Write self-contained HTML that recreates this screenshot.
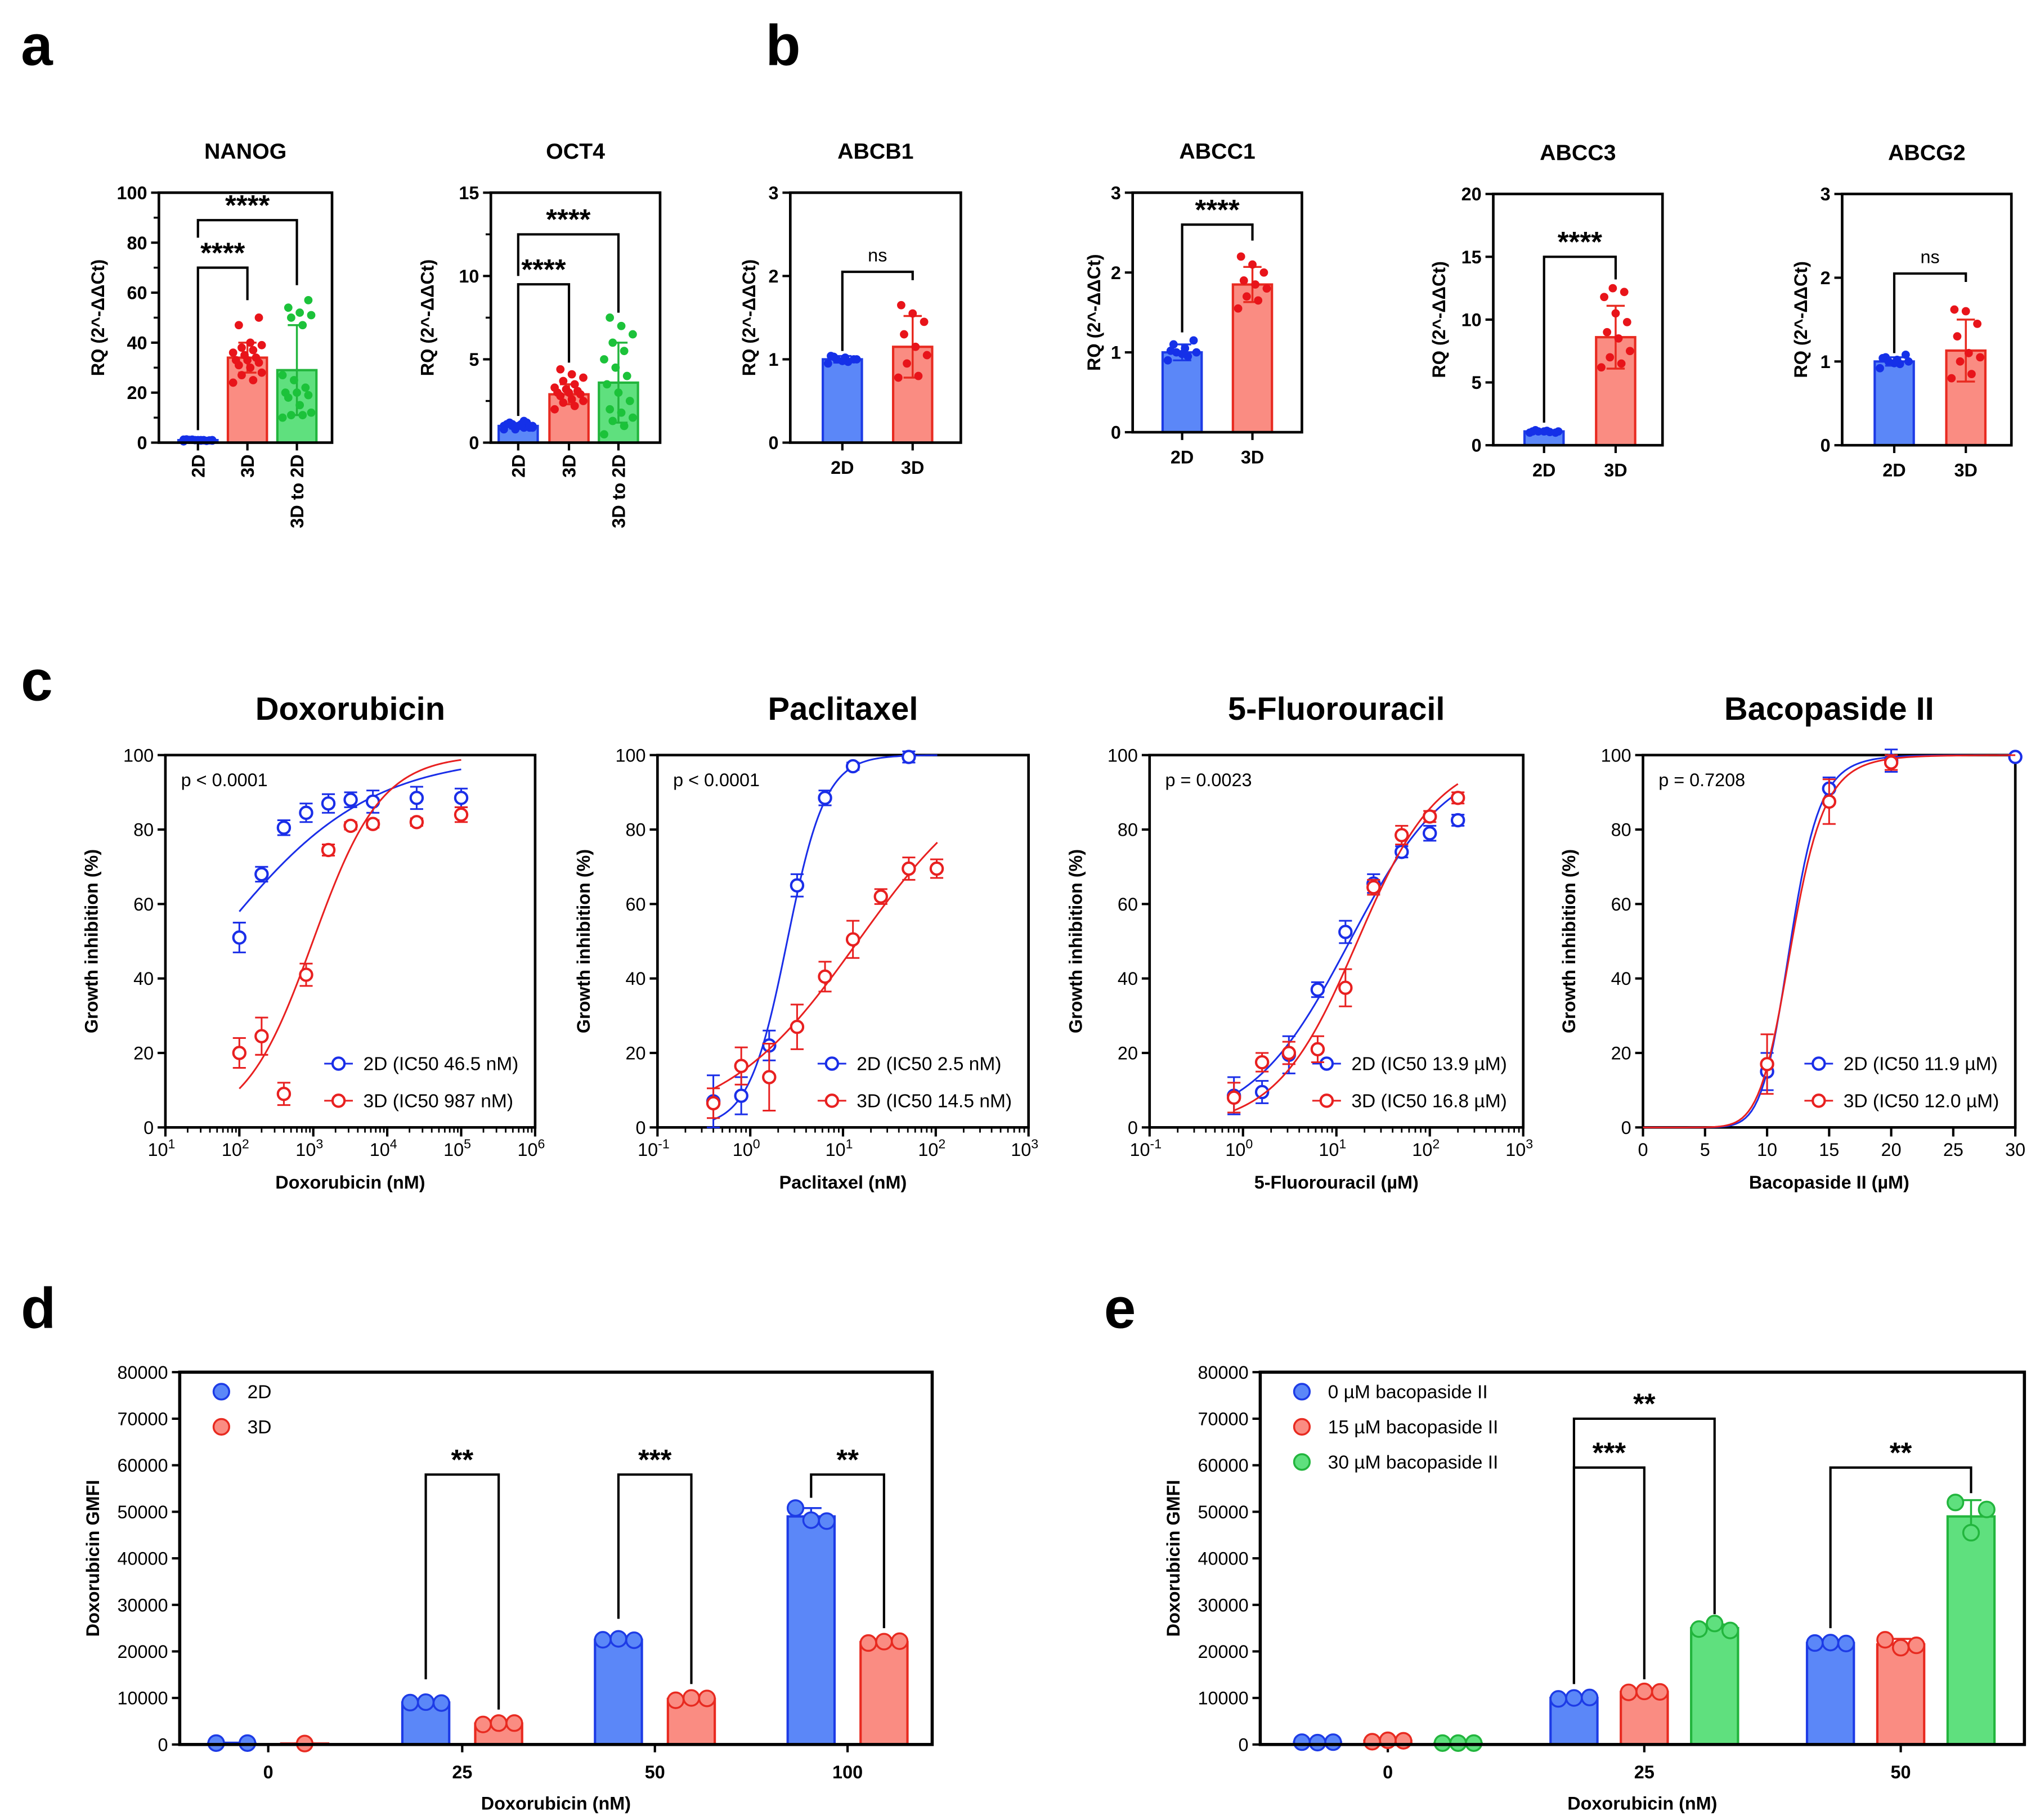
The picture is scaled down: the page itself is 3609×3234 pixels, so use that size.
<!DOCTYPE html>
<html><head><meta charset="utf-8">
<style>
html,body{margin:0;padding:0;background:#fff;}
svg{display:block;font-family:"Liberation Sans",Arial,sans-serif;}
</style></head>
<body>
<svg id="fig" xmlns="http://www.w3.org/2000/svg" width="3609" height="3234" viewBox="0 0 1560 1398"></svg>
<script>
// ---------- DATA ----------
const nanogCats=['2D','3D','3D to 2D'];
const nanogMeans=[1,34,29];
const nanogSD=[0.4,6,18];
const nanogPts=[[0.5,1,1.2,0.8,1,1.1,0.9,1,1.3,0.7,1,1.2,0.9,1.1,1,0.8],[24,25,27,28,30,31,32,33,33,34,35,36,37,38,39,40,47,50],[10,11,11,12,15,18,19,20,20,22,25,27,47,50,51,52,54,57]];
const oct4Cats=['2D','3D','3D to 2D'];
const oct4Means=[1,2.9,3.6];
const oct4SD=[0.15,0.6,2.4];
const oct4Pts=[[0.8,0.9,1,1,1.1,1.2,0.9,1,1.1,1.2,0.8,1,1.3,1.1,0.9,1],[2,2.2,2.4,2.5,2.6,2.8,2.9,3,3,3.1,3.2,3.3,3.5,3.7,3.9,4.1,4.4],[0.5,1,1.3,1.5,1.8,2,2.5,3,3.5,4,4.5,5,5.5,6,6.5,7,7.5]];
const abcb1Means=[1.0,1.15];
const abcb1SD=[0.04,0.37];
const abcb1Pts=[[0.95,0.97,1,1,1.02,1.03,1,0.98,1.04],[0.78,0.8,0.95,1.05,1.15,1.3,1.45,1.55,1.65]];
const abcc1Means=[1.0,1.85];
const abcc1SD=[0.1,0.22];
const abcc1Pts=[[0.9,0.95,1,1,1.05,1.1,1.15,0.98,1.02],[1.55,1.65,1.7,1.8,1.85,1.9,2.0,2.1,2.2]];
const abcc3Means=[1.1,8.6];
const abcc3SD=[0.1,2.5];
const abcc3Pts=[[1,1.05,1.1,1.1,1.15,1.2,1.0,1.1,1.1],[6.2,6.5,7,7.5,8.5,9,9.8,10.5,11.8,12.2,12.5]];
const abcg2Means=[1.0,1.13];
const abcg2SD=[0.05,0.37];
const abcg2Pts=[[0.92,0.97,1,1,1.02,1.05,1.08,0.98,1.04],[0.8,0.85,1.0,1.05,1.1,1.3,1.45,1.6,1.62]];

const doxoX=[100,200,400,800,1600,3200,6400,25000,100000];
const doxo2D=[51,68,80.5,84.5,87,88,87.5,88.5,88.5];
const doxo2DSD=[4,2,2,2.5,2.5,2,3,3,2.5];
const doxo3D=[20,24.5,9,41,74.5,81,81.5,82,84];
const doxo3DSD=[4,5,3,3,1.5,1,1,1,2];
const pacliX=[0.4,0.8,1.6,3.2,6.4,12.8,25.6,51.2,102.4];
const pacli2D=[7,8.5,22,65,88.5,97,null,99.5,null];
const pacli2DSD=[7,5,4,3,2,1,0,1.5,0];
const pacli3D=[6.5,16.5,13.5,27,40.5,50.5,62,69.5,69.5];
const pacli3DSD=[4,5,9,6,4,5,2,3,2.5];
const fuX=[0.8,1.6,3.1,6.3,12.5,25,50,100,200];
const fu2D=[8.5,9.5,19.5,37,52.5,65.5,74,79,82.5];
const fu2DSD=[5,3,5,2,3,2.5,1.5,2,1.5];
const fu3D=[8,17.5,20,21,37.5,64.5,78.5,83.5,88.5];
const fu3DSD=[4,2.5,3,3.5,5,2,2.5,1.5,1.5];
const bacoX=[10,15,20,30];
const baco2D=[15,91,98.5,99.5];
const baco2DSD=[5,3,3,0.5];
const baco3D=[17,87.5,98,null];
const baco3DSD=[8,6,2,0];
const fitIC50=[[46.5,987],[2.5,14.5],[13.9,16.8],[11.9,12.0]];
const fitHill=[[0.42,0.94],[2.1,0.6],[0.82,1.0],[10,9]];
const pLabels=['p < 0.0001','p < 0.0001','p = 0.0023','p = 0.7208'];

const dGroups=['0','25','50','100'];
const d2D=[300,9000,22500,49000];
const d2DSD=[100,300,300,1800];
const d2DPts=[[300,300],[9000,9100,8900],[22500,22700,22400],[50800,48200,48000]];
const d3D=[200,4500,9800,22000];
const d3DSD=[50,300,500,500];
const d3DPts=[[200],[4300,4600,4600],[9500,10000,9900],[21800,22100,22200]];
const eGroups=['0','25','50'];
const eBlue=[500,10000,21800];
const eBlueSD=[100,300,300];
const eBluePts=[[500,400,500],[9800,10000,10100],[21800,21900,21700]];
const eRed=[800,11300,21500];
const eRedSD=[200,300,1200];
const eRedPts=[[600,900,800],[11200,11400,11300],[22500,20800,21300]];
const eGreen=[300,25000,49000];
const eGreenSD=[100,800,3500];
const eGreenPts=[[300,300,300],[24800,26000,24500],[52000,45500,50500]];

// ---------- DRAW ----------
const NS='http://www.w3.org/2000/svg';
const svg=document.getElementById('fig');
function el(tag,attrs,parent,text){const e=document.createElementNS(NS,tag);for(const k in attrs)e.setAttribute(k,attrs[k]);if(text!=null)e.textContent=text;(parent||svg).appendChild(e);return e;}
const COL={blue:{fill:'#5b87f8',stroke:'#1d3be6',dot:'#1530e8'},red:{fill:'#fa8c82',stroke:'#e82a20',dot:'#e8141a'},green:{fill:'#5fe07e',stroke:'#22b53d',dot:'#1cc23a'}};
const cols3=['blue','red','green'];

function letter(t,x,y){const e=el('text',{x:x,y:y,'font-size':44,'font-weight':'bold'},svg,t);

}
letter('a',16,50);letter('b',588,50);letter('c',16,538);letter('d',16,1020);letter('e',848,1020);

function bracket(g,x1,x2,yTop,yl,yr,label,fs){
  const p=el('path',{d:`M${x1},${yl}V${yTop}H${x2}V${yr}`,fill:'none',stroke:'#000','stroke-width':1.8},g);
  
  
  const t=el('text',{x:(x1+x2)/2,y:yTop-(label==='ns'?8:4),'text-anchor':'middle','font-size':label==='ns'?14:fs,'font-weight':label==='ns'?'normal':'bold'},g,label);
  
  
}

function barPanel(p){
  const g=el('g',{});
  
  
  const y=v=>p.B-(v/p.ymax)*(p.B-p.T);
  const t=el('text',{x:(p.L+p.R)/2,y:p.T-26,'text-anchor':'middle','font-size':17,'font-weight':'bold'},g,p.title);
  
  
  p.ticks.forEach(v=>{el('line',{x1:p.L-6,x2:p.L,y1:y(v),y2:y(v),stroke:'#000','stroke-width':1.8},g);
    const tl=el('text',{x:p.L-9,y:y(v)+5,'text-anchor':'end','font-size':14,'font-weight':'bold'},g,String(v));
    
    });
  (p.minor||[]).forEach(v=>el('line',{x1:p.L-4,x2:p.L,y1:y(v),y2:y(v),stroke:'#000','stroke-width':1.5},g));
  p.means.forEach((m,i)=>{
    const c=COL[cols3[i]];const x=p.xs[i];
    const r=el('rect',{x:x-15,y:y(m),width:30,height:p.B-y(m),fill:c.fill,stroke:c.stroke,'stroke-width':1.8},g);
    
    
    const e=el('path',{d:`M${x},${y(m-p.sd[i])}V${y(m+p.sd[i])}M${x-7},${y(m+p.sd[i])}h14M${x-7},${y(m-p.sd[i])}h14`,stroke:c.stroke,'stroke-width':1.5,fill:'none'},g);
    
    
    p.pts[i].forEach((v,j)=>{const dx=((j*7)%11-5)*2.2;
      const d=el('circle',{cx:x+dx,cy:y(v),r:3.2,fill:c.dot},g);
      
      });
    el('line',{x1:x,x2:x,y1:p.B,y2:p.B+6,stroke:'#000','stroke-width':1.8},g);
    let xl;
    if(p.rot){xl=el('text',{x:0,y:0,transform:`translate(${x+5},${p.B+9}) rotate(-90)`,'text-anchor':'end','font-size':14,'font-weight':'bold'},g,p.cats[i]);}
    else{xl=el('text',{x:x,y:p.B+24,'text-anchor':'middle','font-size':14,'font-weight':'bold'},g,p.cats[i]);}
    
    
  });
  const fr=el('rect',{x:p.L,y:p.T,width:p.R-p.L,height:p.B-p.T,fill:'none',stroke:'#000','stroke-width':2},g);
  
  
  const yl=el('text',{x:0,y:0,transform:`translate(${p.yl},${(p.T+p.B)/2}) rotate(-90)`,'text-anchor':'middle','font-size':14,'font-weight':'bold'},g,'RQ (2^-ΔΔCt)');
  
  
  p.br.forEach(b=>bracket(g,p.xs[b[0]],p.xs[b[1]],y(b[2]),y(b[3]),y(b[4]),b[5],22));
}
barPanel({name:'nanog',title:'NANOG',L:122,R:255,T:148,B:340,ymax:100,ticks:[0,20,40,60,80,100],minor:[10,30,50,70,90],cats:nanogCats,means:nanogMeans,sd:nanogSD,pts:nanogPts,xs:[152,190,228],rot:true,yl:80,
  br:[[0,1,70,5,57,'****'],[0,2,89,82,63,'****']]});
barPanel({name:'oct4',title:'OCT4',L:377,R:507,T:148,B:340,ymax:15,ticks:[0,5,10,15],minor:[2.5,7.5,12.5],cats:oct4Cats,means:oct4Means,sd:oct4SD,pts:oct4Pts,xs:[398,437,475],rot:true,yl:333,
  br:[[0,1,9.5,1.6,4.8,'****'],[0,2,12.5,10,7.8,'****']]});
barPanel({name:'abcb1',title:'ABCB1',L:607,R:738,T:148,B:340,ymax:3,ticks:[0,1,2,3],cats:['2D','3D'],means:abcb1Means,sd:abcb1SD,pts:abcb1Pts,xs:[647,701],rot:false,yl:580,
  br:[[0,1,2.05,1.1,1.95,'ns']]});
barPanel({name:'abcc1',title:'ABCC1',L:870,R:1000,T:148,B:332,ymax:3,ticks:[0,1,2,3],cats:['2D','3D'],means:abcc1Means,sd:abcc1SD,pts:abcc1Pts,xs:[908,962],rot:false,yl:845,
  br:[[0,1,2.6,1.25,2.4,'****']]});
barPanel({name:'abcc3',title:'ABCC3',L:1147,R:1277,T:149,B:342,ymax:20,ticks:[0,5,10,15,20],cats:['2D','3D'],means:abcc3Means,sd:abcc3SD,pts:abcc3Pts,xs:[1186,1241],rot:false,yl:1110,
  br:[[0,1,15,1.8,13.2,'****']]});
barPanel({name:'abcg2',title:'ABCG2',L:1415,R:1545,T:149,B:342,ymax:3,ticks:[0,1,2,3],cats:['2D','3D'],means:abcg2Means,sd:abcg2SD,pts:abcg2Pts,xs:[1455,1510],rot:false,yl:1388,
  br:[[0,1,2.05,1.1,1.95,'ns']]});

function curvePanel(p,k){
  const g=el('g',{});
  
  
  const T=580,B=866;
  const y=v=>B-v/100*(B-T);
  const x=p.log?(v=>p.L+(Math.log10(v)-p.lmin)/(p.lmax-p.lmin)*(p.R-p.L)):(v=>p.L+v/p.xmax*(p.R-p.L));
  const t=el('text',{x:(p.L+p.R)/2,y:553,'text-anchor':'middle','font-size':25,'font-weight':'bold'},g,p.title);
  
  
  [0,20,40,60,80,100].forEach(v=>{el('line',{x1:p.L-6,x2:p.L,y1:y(v),y2:y(v),stroke:'#000','stroke-width':1.8},g);
    const tl=el('text',{x:p.L-9,y:y(v)+5,'text-anchor':'end','font-size':14},g,String(v));
    
    });
  if(p.log){
    for(let e=p.lmin;e<=p.lmax;e++){
      const xx=x(Math.pow(10,e));
      el('line',{x1:xx,x2:xx,y1:B,y2:B+7,stroke:'#000','stroke-width':1.8},g);
      const tl=el('text',{x:xx-3,y:B+22,'text-anchor':'middle','font-size':14},g,'10');
      el('tspan',{dy:-6,'font-size':10},tl,String(e));
      
      
      if(e<p.lmax)for(let m=2;m<10;m++){const xm=x(m*Math.pow(10,e));el('line',{x1:xm,x2:xm,y1:B,y2:B+4,stroke:'#000','stroke-width':1.2},g);}
    }
  } else {
    for(let v=0;v<=p.xmax;v+=5){const xx=x(v);el('line',{x1:xx,x2:xx,y1:B,y2:B+7,stroke:'#000','stroke-width':1.8},g);
      const tl=el('text',{x:xx,y:B+22,'text-anchor':'middle','font-size':14},g,String(v));
      
      }
  }
  const fr=el('rect',{x:p.L,y:T,width:p.R-p.L,height:B-T,fill:'none',stroke:'#000','stroke-width':2},g);
  
  
  const yl=el('text',{x:0,y:0,transform:`translate(${p.L-52},${(T+B)/2}) rotate(-90)`,'text-anchor':'middle','font-size':14,'font-weight':'bold'},g,'Growth inhibition (%)');
  
  
  const xl=el('text',{x:(p.L+p.R)/2,y:B+47,'text-anchor':'middle','font-size':14,'font-weight':'bold'},g,p.xtitle);
  
  
  const pl=el('text',{x:p.L+12,y:T+24,'font-size':14},g,pLabels[k]);
  
  
  const series=[[p.s2,p.s2sd,'#1a2ee8','2D'],[p.s3,p.s3sd,'#e82020','3D']];
  series.forEach((s,si)=>{
    const ic=fitIC50[k][si],h=fitHill[k][si];
    let d='';const n=120;
    for(let i=0;i<=n;i++){
      let xv;
      if(p.log){const l=Math.log10(p.cx0)+(Math.log10(p.cx1)-Math.log10(p.cx0))*i/n;xv=Math.pow(10,l);}
      else xv=p.cx0+(p.cx1-p.cx0)*i/n;
      const yv=xv<=0?0:100/(1+Math.pow(ic/xv,h));
      d+=(i?'L':'M')+x(xv).toFixed(2)+','+y(yv).toFixed(2);
    }
    const c=el('path',{d:d,fill:'none',stroke:s[2],'stroke-width':1.3},g);
    
    
    s[0].forEach((v,i)=>{ if(v==null)return;
      const xx=x(p.xs[i]),sd=s[1][i];
      const e=el('path',{d:`M${xx},${y(v-sd)}V${y(v+sd)}M${xx-5},${y(v+sd)}h10M${xx-5},${y(v-sd)}h10`,stroke:s[2],'stroke-width':1.3,fill:'none'},g);
      
      
      const pt=el('circle',{cx:xx,cy:y(v),r:4.6,fill:'#fff',stroke:s[2],'stroke-width':1.8},g);
      
      
    });
    const ly=T+237+si*28.5,lx=p.R-162;
    el('line',{x1:lx,x2:lx+22,y1:ly,y2:ly,stroke:s[2],'stroke-width':1.3},g);
    el('circle',{cx:lx+11,cy:ly,r:4.6,fill:'#fff',stroke:s[2],'stroke-width':1.8},g);
    const lt=el('text',{x:lx+30,y:ly+5,'font-size':14.5},g,s[3]+' (IC50 '+p.ic[si]+')');
    
    
  });
}
curvePanel({name:'doxorubicin',title:'Doxorubicin',L:127,R:411,log:true,lmin:1,lmax:6,xtitle:'Doxorubicin (nM)',xs:doxoX,s2:doxo2D,s2sd:doxo2DSD,s3:doxo3D,s3sd:doxo3DSD,cx0:100,cx1:100000,ic:['46.5 nM','987 nM']},0);
curvePanel({name:'paclitaxel',title:'Paclitaxel',L:505,R:790,log:true,lmin:-1,lmax:3,xtitle:'Paclitaxel (nM)',xs:pacliX,s2:pacli2D,s2sd:pacli2DSD,s3:pacli3D,s3sd:pacli3DSD,cx0:0.4,cx1:104,ic:['2.5 nM','14.5 nM']},1);
curvePanel({name:'fluorouracil',title:'5-Fluorouracil',L:883,R:1170,log:true,lmin:-1,lmax:3,xtitle:'5-Fluorouracil (µM)',xs:fuX,s2:fu2D,s2sd:fu2DSD,s3:fu3D,s3sd:fu3DSD,cx0:0.8,cx1:200,ic:['13.9 µM','16.8 µM']},2);
curvePanel({name:'bacopaside',title:'Bacopaside II',L:1262,R:1548,log:false,xmax:30,xtitle:'Bacopaside II (µM)',xs:bacoX,s2:baco2D,s2sd:baco2DSD,s3:baco3D,s3sd:baco3DSD,cx0:0,cx1:30,ic:['11.9 µM','12.0 µM']},3);

function groupPanel(p){
  const g=el('g',{});
  
  
  const T=1054,B=1340;
  const y=v=>B-v/80000*(B-T);
  for(let v=0;v<=80000;v+=10000){el('line',{x1:p.L-6,x2:p.L,y1:y(v),y2:y(v),stroke:'#000','stroke-width':1.8},g);
    const tl=el('text',{x:p.L-9,y:y(v)+5,'text-anchor':'end','font-size':14},g,String(v));
    
    }
  p.groups.forEach((gn,i)=>{
    const gx=p.gx[i];
    el('line',{x1:gx,x2:gx,y1:B,y2:B+6,stroke:'#000','stroke-width':1.8},g);
    const tl=el('text',{x:gx,y:B+26,'text-anchor':'middle','font-size':14,'font-weight':'bold'},g,gn);
    
    
    p.series.forEach((s,si)=>{
      const c=COL[cols3[si]];const x=gx+p.off[si];const m=s.means[i];
      const r=el('rect',{x:x-18,y:y(m),width:36,height:B-y(m),fill:c.fill,stroke:c.stroke,'stroke-width':1.8},g);
      
      
      const sd=s.sd[i];
      const e=el('path',{d:`M${x},${y(m-sd)}V${y(m+sd)}M${x-8},${y(m+sd)}h16`,stroke:c.stroke,'stroke-width':1.5,fill:'none'},g);
      
      
      const pts=s.pts[i];
      pts.forEach((v,j)=>{const dx=pts.length===1?0:(j-(pts.length-1)/2)*(pts.length===2?24:12);
        const d=el('circle',{cx:x+dx,cy:y(v),r:6,fill:c.fill,stroke:c.stroke,'stroke-width':1.5},g);
        
        });
    });
  });
  const fr=el('rect',{x:p.L,y:T,width:p.R-p.L,height:B-T,fill:'none',stroke:'#000','stroke-width':2.4},g);
  
  
  const yl=el('text',{x:0,y:0,transform:`translate(${p.L-62},${(T+B)/2}) rotate(-90)`,'text-anchor':'middle','font-size':14,'font-weight':'bold'},g,'Doxorubicin GMFI');
  
  
  const xl=el('text',{x:(p.L+p.R)/2,y:B+50,'text-anchor':'middle','font-size':14,'font-weight':'bold'},g,'Doxorubicin (nM)');
  
  
  p.series.forEach((s,si)=>{const c=COL[cols3[si]];const ly=1069+si*27;
    el('circle',{cx:p.L+32,cy:ly,r:6,fill:c.fill,stroke:c.stroke,'stroke-width':1.5},g);
    const lt=el('text',{x:p.L+52,y:ly+5,'font-size':14.5},g,s.label);
    
    });
  p.br.forEach(b=>bracket(g,p.gx[b[0]]+p.off[b[1]],p.gx[b[0]]+p.off[b[2]],y(b[3]),y(b[4]),y(b[5]),b[6],22));
}
groupPanel({name:'panel-d',L:138,R:716,gx:[206,355,503,651],off:[-28,28],groups:dGroups,
  series:[{key:'2D',label:'2D',means:d2D,sd:d2DSD,pts:d2DPts},{key:'3D',label:'3D',means:d3D,sd:d3DSD,pts:d3DPts}],
  br:[[1,0,1,58000,14000,7500,'**'],[2,0,1,58000,27000,13000,'***'],[3,0,1,58000,53000,25000,'**']]});
groupPanel({name:'panel-e',L:968,R:1555,gx:[1066,1263,1460],off:[-54,0,54],groups:eGroups,
  series:[{key:'0uM',label:'0 µM bacopaside II',means:eBlue,sd:eBlueSD,pts:eBluePts},{key:'15uM',label:'15 µM bacopaside II',means:eRed,sd:eRedSD,pts:eRedPts},{key:'30uM',label:'30 µM bacopaside II',means:eGreen,sd:eGreenSD,pts:eGreenPts}],
  br:[[1,0,1,59500,13000,14000,'***'],[1,0,2,70000,13000,28000,'**'],[2,0,2,59500,25000,54000,'**']]});
</script>
</body></html>
